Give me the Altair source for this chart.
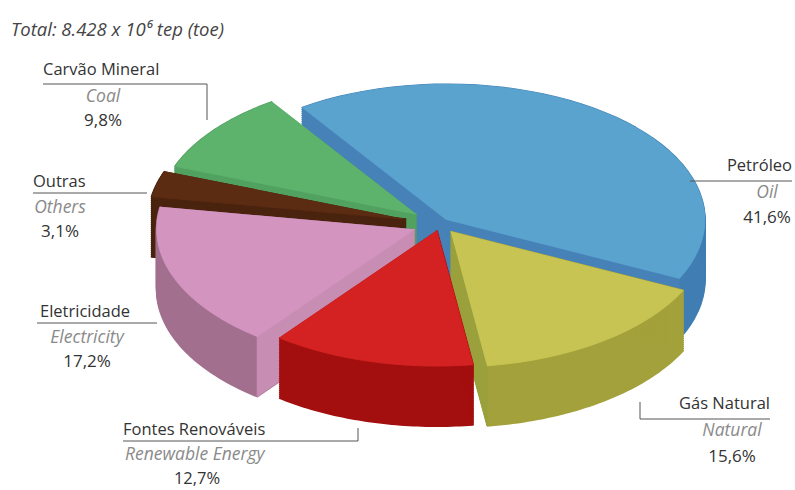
import altair as alt
import pandas as pd

# ---------------- data ----------------
names_pt = ["Petróleo", "Gás Natural", "Fontes Renováveis", "Eletricidade", "Outras", "Carvão Mineral"]
names_en = ["Oil", "Natural", "Renewable Energy", "Electricity", "Others", "Coal"]
shares = [41.6, 15.6, 12.7, 17.2, 3.1, 9.8]
share_labels = ["41,6%", "15,6%", "12,7%", "17,2%", "3,1%", "9,8%"]
title_text = "Total: 8.428 x 10⁶ tep (toe)"

# ---------------- styles ----------------
top_colors = ["#5aa3cf", "#c8c453", "#d42121", "#d494c0", "#5b2b12", "#5db36c"]
side_colors = ["#3f7db2", "#a3a13b", "#a30f0f", "#a26f8e", "#42200c", "#4c9a5b"]
cut_colors = ["#4682b8", "#99a03c", "#b81515", "#c78db3", "#4a230e", "#51a160"]
explode = [0.04, 0.07, 0.05, 0.105, 0.136, 0.116]   # radial offset, in radius units
paint_order = [0, 5, 4, 3, 1, 2]                      # back-to-front

W, H = 795, 490
CX, CY, R = 440, 224, 258          # pie centre & horizontal radius in px (layout)
TILT = 0.525                        # vertical squash of the pie
DEPTH = 60.0 / R                    # thickness in radius units
DSTEP = 2.0 / R
START = -124                        # degrees, first slice edge
N = 48

FONT = "Open Sans"
DARK = "#333333"
GREY = "#8a8a8a"

slices = pd.DataFrame({
    "idx": list(range(len(shares))),
    "share": shares,
    "top": top_colors,
    "side": side_colors,
    "cut": cut_colors,
    "explode": explode,
})

xs = alt.Scale(domain=[-CX / R, (W - CX) / R], nice=False, zero=False)
ys = alt.Scale(domain=[-CY / R, (H - CY) / R], nice=False, zero=False, reverse=True)

angles = (
    alt.Chart(slices)
    .transform_joinaggregate(total="sum(share)")
    .transform_window(cum="sum(share)", sort=[alt.SortField("idx")], frame=[None, 0])
    .transform_calculate(a0=f"{START}*PI/180 + 2*PI*(datum.cum - datum.share)/datum.total")
    .transform_calculate(a1=f"{START}*PI/180 + 2*PI*datum.cum/datum.total")
    .transform_calculate(mid="(datum.a0 + datum.a1)/2")
    .transform_calculate(ox="datum.explode*cos(datum.mid)")
    .transform_calculate(oy=f"datum.explode*sin(datum.mid)*{TILT}")
)

base = (
    angles.transform_calculate(step=f"sequence(0, {N + 2})")
    .transform_flatten(["step"])
    .transform_calculate(t=f"datum.a0 + (datum.a1 - datum.a0)*(datum.step - 1)/{N}")
    .transform_calculate(px="datum.ox + (datum.step == 0 ? 0 : cos(datum.t))")
    .transform_calculate(py=f"datum.oy + (datum.step == 0 ? 0 : {TILT}*sin(datum.t))")
)

faces = (
    angles.transform_calculate(face="sequence(0, 2)")
    .transform_flatten(["face"])
    .transform_calculate(fa="datum.face == 0 ? datum.a0 : datum.a1")
    .transform_filter("datum.face == 0 ? cos(datum.a0) < 0 : cos(datum.a1) > 0")
    .transform_calculate(corner="sequence(0, 4)")
    .transform_flatten(["corner"])
    .transform_calculate(
        edge="(datum.corner == 1 || datum.corner == 2) ? 1 : 0")
    .transform_calculate(px="datum.ox + datum.edge*cos(datum.fa)")
    .transform_calculate(
        py=f"datum.oy + datum.edge*{TILT}*sin(datum.fa) + (datum.corner >= 2 ? {DEPTH} : 0)")
)

layers = []
# extruded bodies and visible cut faces, back to front
for k in paint_order:
    body = (
        base.transform_filter(f"datum.idx == {k}")
        .transform_calculate(dz=f"sequence(0, {DEPTH + DSTEP / 2}, {DSTEP})")
        .transform_flatten(["dz"])
        .transform_calculate(pyb="datum.py + datum.dz")
        .mark_line(filled=True, strokeWidth=2, strokeJoin="round")
        .encode(
            x=alt.X("px:Q", scale=xs, axis=None),
            y=alt.Y("pyb:Q", scale=ys, axis=None),
            detail="dz:Q",
            order="step:Q",
            fill=alt.Fill("side:N", scale=None, legend=None),
            stroke=alt.Stroke("side:N", scale=None, legend=None),
        )
    )
    cut = (
        faces.transform_filter(f"datum.idx == {k}")
        .mark_line(filled=True, strokeWidth=1, strokeJoin="round")
        .encode(
            x=alt.X("px:Q", scale=xs, axis=None),
            y=alt.Y("py:Q", scale=ys, axis=None),
            detail="face:Q",
            order="corner:Q",
            fill=alt.Fill("cut:N", scale=None, legend=None),
            stroke=alt.Stroke("cut:N", scale=None, legend=None),
        )
    )
    layers.extend([body, cut])

tops = base.mark_line(filled=True, strokeWidth=1, strokeJoin="round").encode(
    x=alt.X("px:Q", scale=xs, axis=None),
    y=alt.Y("py:Q", scale=ys, axis=None),
    detail="idx:N",
    order="step:Q",
    fill=alt.Fill("top:N", scale=None, legend=None),
    stroke=alt.Stroke("top:N", scale=None, legend=None),
)
layers.append(tops)

one = alt.Data(values=[{"a": 1}])


def txt(s, x, y, align="left", italic=False, color=DARK, size=16.5):
    kw = dict(align=align, baseline="middle", font=FONT, fontSize=size, color=color)
    if italic:
        kw["fontStyle"] = "italic"
    return alt.Chart(one).mark_text(**kw).encode(
        x=alt.value(x), y=alt.value(y), text=alt.value(s)
    )


def rule(x1, x2, y1, y2):
    return alt.Chart(one).mark_rule(color="#555555", strokeWidth=1).encode(
        x=alt.value(x1), x2=alt.value(x2), y=alt.value(y1), y2=alt.value(y2)
    )


# label layout: (pt x, pt y, pt align, en x, en y, en align, pct x, pct y)
label_layout = {
    0: (792, 166, "right", 767, 193, "center", 767, 218),
    1: (770, 404, "right", 732, 431, "center", 732, 457),
    2: (123, 430, "left", 125, 455, "left", 197, 479),
    3: (40, 312, "left", 87, 338, "center", 87, 362),
    4: (33, 182, "left", 60, 208, "center", 60, 232),
    5: (43, 70, "left", 103, 97, "center", 103, 121),
}
leader_lines = [
    (690, 792, 181, 181),
    (640, 770, 419, 419), (640, 640, 402, 419),
    (123, 358, 441, 441), (358, 358, 428, 441),
    (37, 157, 323, 323),
    (33, 147, 193, 193),
    (43, 207, 84, 84), (207, 207, 84, 120),
]

layers.append(txt(title_text, 11, 30, italic=True, color="#444444", size=18.5))
for i, (px_, py_, pa, ex, ey, ea, cx_, cy_) in label_layout.items():
    layers.append(txt(names_pt[i], px_, py_, align=pa))
    layers.append(txt(names_en[i], ex, ey, align=ea, italic=True, color=GREY, size=17.5))
    layers.append(txt(share_labels[i], cx_, cy_, align="center", size=16.5 if i == 2 else 17))
for x1, x2, y1, y2 in leader_lines:
    layers.append(rule(x1, x2, y1, y2))

chart = (
    alt.layer(*layers)
    .properties(width=W, height=H, padding=0, autosize=alt.AutoSizeParams(type="none"))
    .configure_view(stroke=None)
)

chart.save("out.html", embed_options={"renderer": "svg", "actions": False})
